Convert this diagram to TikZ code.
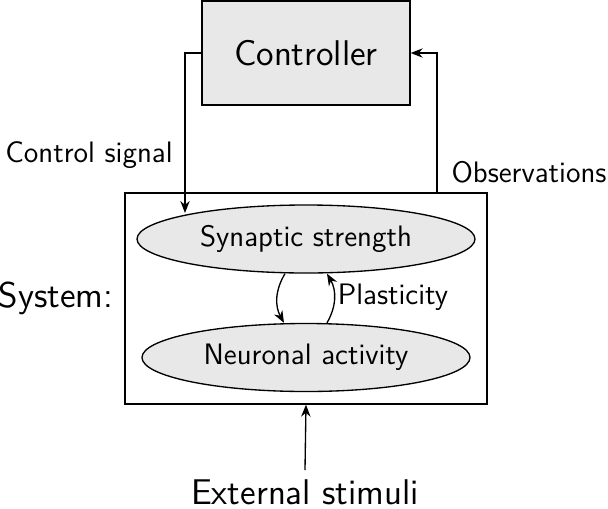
\documentclass[tikz,border=0pt]{standalone}
\usepackage{tikz}
\usetikzlibrary{shapes.geometric,arrows.meta}
\renewcommand{\familydefault}{\sfdefault}
\newcommand{\fnorm}{\fontsize{11.1}{13}\selectfont}
\newcommand{\fbig}{\fontsize{13.4}{16}\selectfont}
\begin{document}
\begin{tikzpicture}[x=0.375pt,y=-0.375pt,
  boxg/.style={draw, fill=black!9, line width=0.5pt},
  ell/.style={ellipse, draw, fill=black!9, line width=0.5pt, inner sep=0pt},
  conn/.style={line width=0.5pt, -{Stealth[length=4.5pt,width=3.5pt]}},
  lbl/.style={inner sep=0pt, font=\sffamily\fnorm}]
\useasboundingbox (0,0) rectangle (608,508);
\node[boxg, minimum width=208*0.375pt, minimum height=104*0.375pt, font=\sffamily\fbig] (ctrl) at (306,53) {Controller};
\node[draw, line width=0.5pt, minimum width=362*0.375pt, minimum height=211*0.375pt] (sys) at (306,298.5) {};
\node[ell, minimum width=338*0.375pt, minimum height=68*0.375pt, font=\sffamily\fnorm] (syn) at (306,239) {Synaptic strength};
\node[ell, minimum width=328*0.375pt, minimum height=68*0.375pt, font=\sffamily\fnorm] (neu) at (306,357.5) {Neuronal activity};
\node[lbl] (cs) at (89,155) {Control signal};
\node[lbl] (obs) at (529,172) {Observations};
\node[lbl, font=\sffamily\fbig] (sl) at (56,298) {System:};
\node[lbl] (pl) at (393,297) {Plasticity};
\node[lbl, font=\sffamily\fbig] (ext) at (305,492) {External stimuli};
\coordinate (c1) at (185,53);
\coordinate (c2) at (437,53);
\coordinate (e1) at (305,470);
\draw[conn] (ctrl.west) -- (c1) -- (185,213);
\draw[conn] (437,193) -- (c2) -- (ctrl.east);
\draw[conn] (e1) -- (sys.south);
\draw[conn] ([xshift=-21*0.375pt]syn.south) to[bend right=30] ([xshift=-22*0.375pt]neu.north);
\draw[conn] ([xshift=21*0.375pt]neu.north) to[bend right=30] ([xshift=21*0.375pt]syn.south);
\end{tikzpicture}
\end{document}
